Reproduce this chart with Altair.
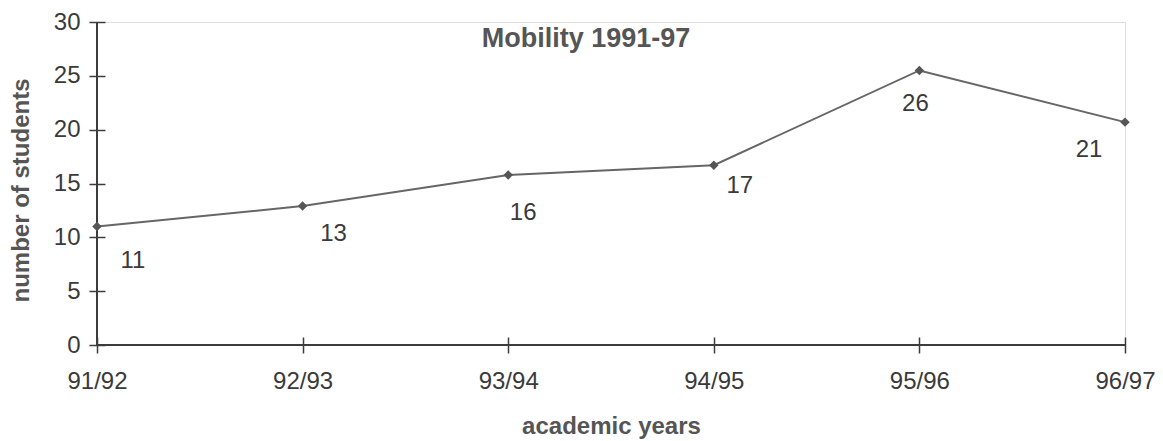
import altair as alt
import pandas as pd

years = ["91/92", "92/93", "93/94", "94/95", "95/96", "96/97"]
students = [11, 12.9, 15.8, 16.7, 25.5, 20.7]
value_labels = ["11", "13", "16", "17", "26", "21"]
y_ticks = [0, 5, 10, 15, 20, 25, 30]
chart_title = ["Mobility 1991-97"]

df = pd.DataFrame({"year": years, "students": students, "label": value_labels})
title_df = pd.DataFrame({"t": chart_title})

FONT = "Liberation Sans"
W, H = 1028, 323
TXT = "#3a3a3a"
AX = "#3c3c3c"

# per-label placement (style), keyed by category
label_offsets = {
    "91/92": (36, 34),
    "92/93": (31, 28),
    "93/94": (15, 38),
    "94/95": (26, 21),
    "95/96": (-4, 34),
    "96/97": (-36, 28),
}

x_enc = alt.X(
    "year:N", sort=years,
    scale=alt.Scale(type="point", padding=0),
    axis=alt.Axis(
        title="academic years", offset=-8, tickSize=16, domain=False, grid=False,
        labelAngle=0, labelPadding=16, labelFontSize=24, labelFont=FONT, labelColor=TXT,
        tickColor=AX, tickWidth=1.5,
        titleFont=FONT, titleFontSize=24, titleFontWeight="bold", titleColor="#555555",
        titleX=W / 2, titleY=96, titleBaseline="alphabetic", titleAlign="center",
    ),
)
y_enc = alt.Y(
    "students:Q",
    scale=alt.Scale(domain=[0, 30], nice=False, zero=True),
    axis=alt.Axis(
        values=y_ticks, title="number of students", offset=-8, tickSize=16, domain=False,
        grid=False, labelPadding=9, labelFontSize=24, labelFont=FONT, labelColor=TXT,
        tickColor=AX, tickWidth=1.5,
        titleFont=FONT, titleFontSize=24, titleFontWeight="bold", titleColor="#555555",
        titleX=-77, titleY=168, titleBaseline="alphabetic", titleAlign="center",
    ),
)

base = alt.Chart(df)

line = base.mark_line(color="#666666", strokeWidth=2).encode(x=x_enc, y=y_enc)
pts = base.mark_point(shape="diamond", filled=True, color="#555555", size=90, opacity=1).encode(
    x="year:N", y="students:Q"
)

vdomain = base.mark_rule(color=AX, strokeWidth=1.5).encode(
    x=alt.value(0), y=alt.value(0), y2=alt.value(H)
)
hdomain = base.mark_rule(color=AX, strokeWidth=1.5).encode(
    x=alt.value(0), x2=alt.value(W), y=alt.value(H)
)

texts = []
for yr, (dx, dy) in label_offsets.items():
    texts.append(
        base.transform_filter(alt.datum.year == yr)
        .mark_text(font=FONT, fontSize=24, color=TXT, dx=dx, dy=dy, align="center", baseline="middle")
        .encode(x="year:N", y="students:Q", text="label:N")
    )

title_mark = alt.Chart(title_df).mark_text(
    font=FONT, fontSize=27, fontWeight="bold", color="#555555", align="center", baseline="alphabetic"
).encode(x=alt.value(489), y=alt.value(25), text="t:N")

chart = alt.layer(vdomain, hdomain, line, pts, *texts, title_mark).properties(
    width=W, height=H,
    autosize=alt.AutoSizeParams(type="none"),
    padding={"left": 89, "top": 14, "right": 30, "bottom": 94},
).configure_view(stroke=None).configure(background="white")

chart.save("out.html", embed_options={"renderer": "svg", "actions": False})
